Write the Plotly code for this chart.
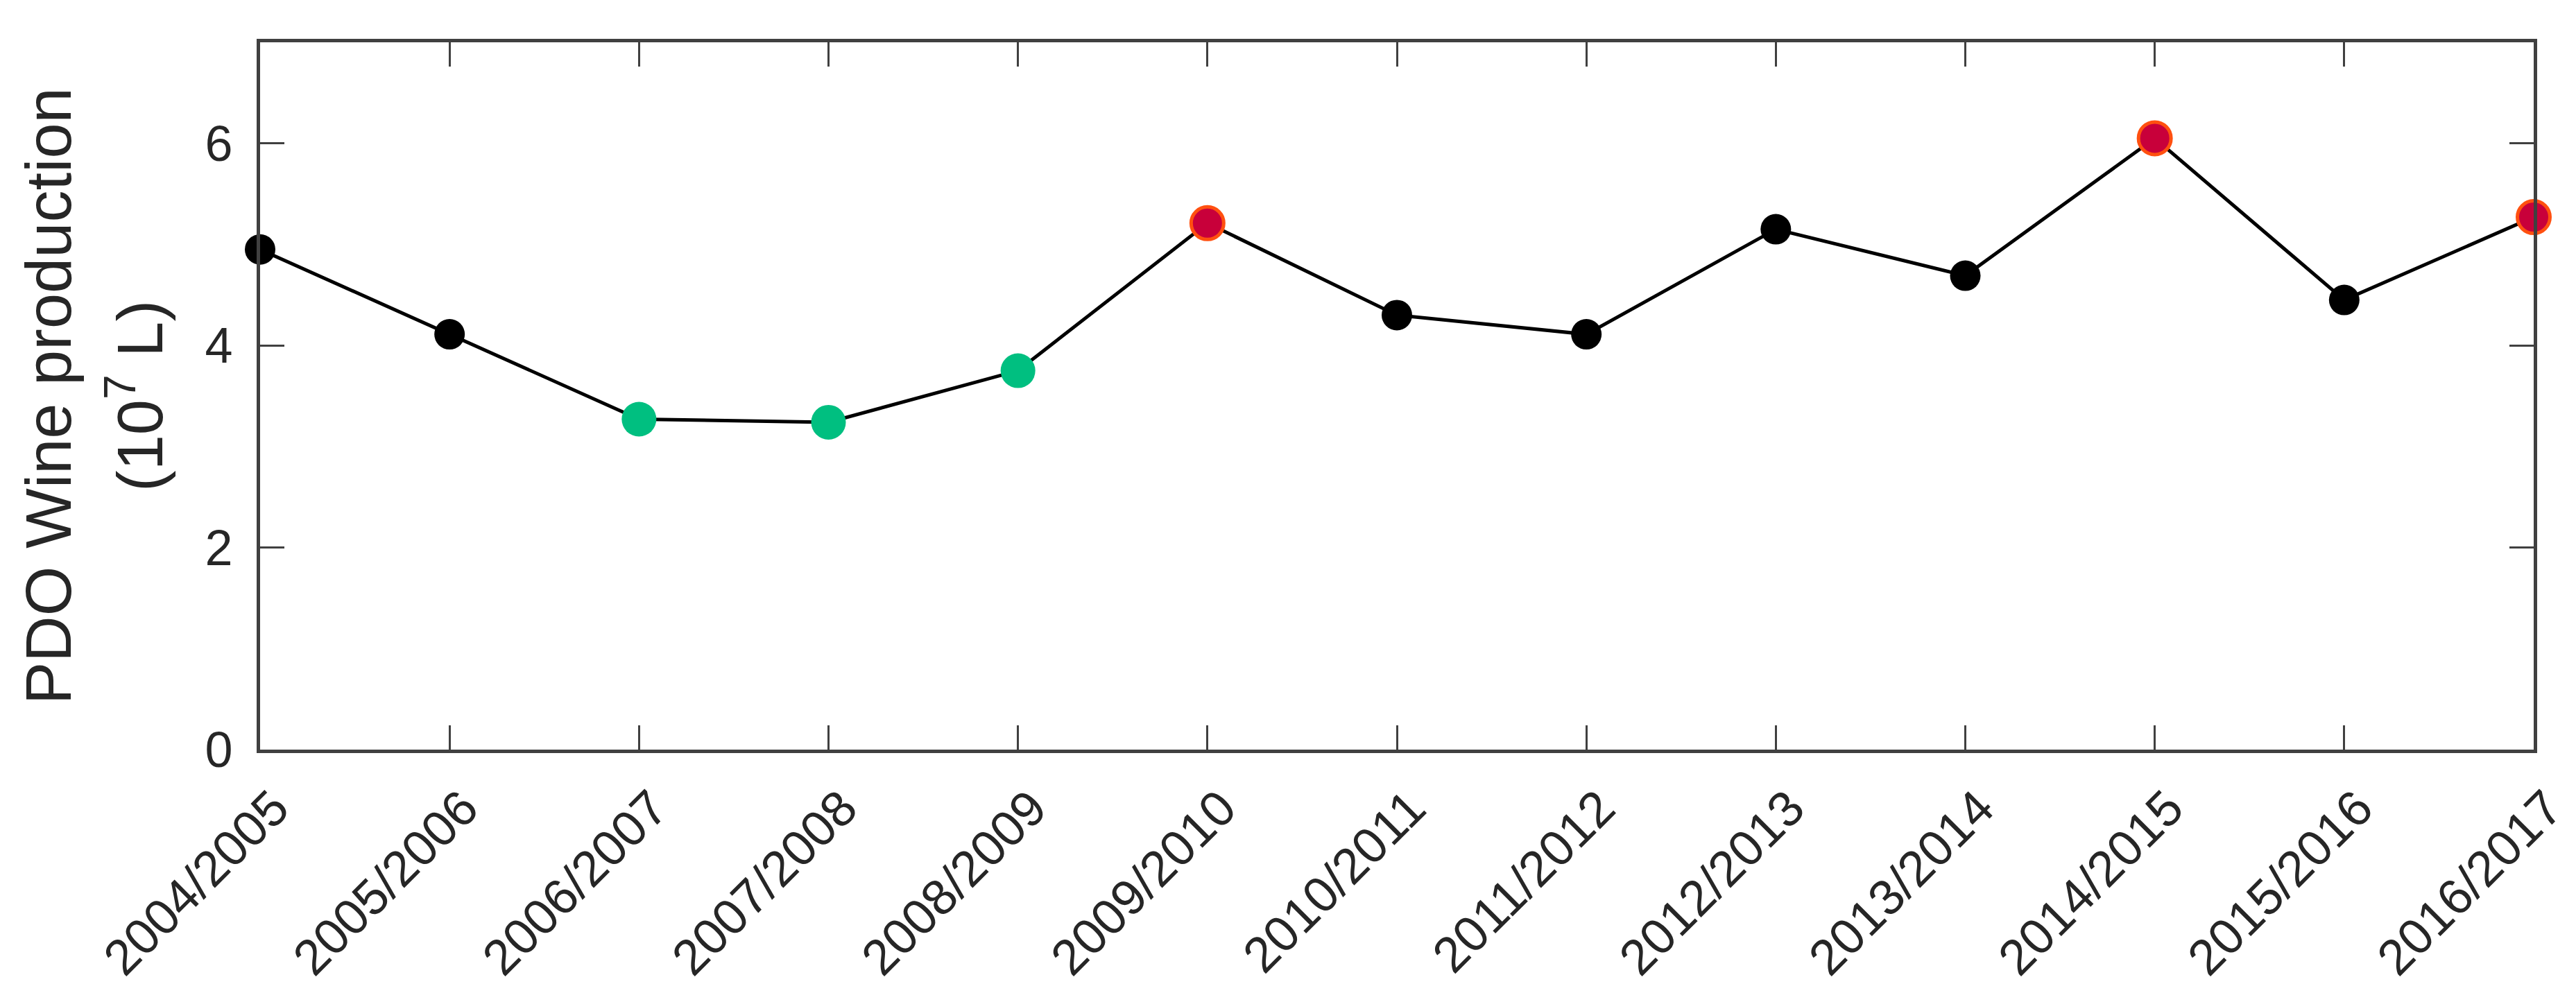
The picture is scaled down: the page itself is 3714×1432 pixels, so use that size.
"""PDO wine production per season, highlighted low/high years."""

import plotly.graph_objects as go

seasons = [
    "2004/2005", "2005/2006", "2006/2007", "2007/2008", "2008/2009",
    "2009/2010", "2010/2011", "2011/2012", "2012/2013", "2013/2014",
    "2014/2015", "2015/2016", "2016/2017",
]
production = [4.95, 4.11, 3.27, 3.24, 3.75, 5.21, 4.30, 4.11, 5.15, 4.69, 6.05, 4.45, 5.27]
# "normal", "low" or "high" season
group = [
    "normal", "normal", "low", "low", "low",
    "high", "normal", "normal", "normal", "normal",
    "high", "normal", "high",
]

y_ticks = [0, 2, 4, 6]

AXIS_COLOR = "#404040"
TEXT_COLOR = "#262626"
FONT = "Liberation Sans, Arial, sans-serif"

marker_styles = {
    "normal": dict(color="black", size=44, line=dict(width=0)),
    "low": dict(color="#00BF80", size=50, line=dict(width=0)),
    "high": dict(color="#C8003A", size=47, line=dict(color="#FF5010", width=5)),
}

fig = go.Figure()
fig.add_trace(go.Scatter(
    x=seasons, y=production, mode="lines",
    line=dict(color="black", width=5), showlegend=False,
))
for g, style in marker_styles.items():
    xs = [s for s, k in zip(seasons, group) if k == g]
    ys = [v for v, k in zip(production, group) if k == g]
    fig.add_trace(go.Scatter(
        x=xs, y=ys, mode="markers", marker=dict(symbol="circle", **style),
        showlegend=False, cliponaxis=False,
    ))

axis_common = dict(
    showline=True, linecolor=AXIS_COLOR, linewidth=5, mirror="ticks",
    ticks="inside", ticklen=35, tickwidth=3, tickcolor=AXIS_COLOR,
    showgrid=False, zeroline=False, automargin=False,
    tickfont=dict(family=FONT, size=72, color=TEXT_COLOR),
)

fig.update_xaxes(
    type="category", categoryorder="array", categoryarray=seasons,
    range=[0, len(seasons) - 1], tickangle=-45,
    ticklabelshift=20, ticklabelstandoff=8, **axis_common,
)
fig.update_yaxes(range=[0, 7], tickvals=y_ticks, ticklabelstandoff=20, **axis_common)

# two-line y label, MATLAB style spacing
for text, shift in [("PDO Wine production", -305), ("(10<sup>7</sup> L)", -180)]:
    fig.add_annotation(
        text=text, xref="paper", yref="paper", x=0, y=0.5,
        xanchor="center", yanchor="middle", xshift=shift,
        textangle=-90, showarrow=False,
        font=dict(family=FONT, size=92, color=TEXT_COLOR),
    )

fig.update_layout(
    width=3714, height=1432,
    margin=dict(l=367, r=69, t=53, b=359),
    paper_bgcolor="white", plot_bgcolor="white",
    font=dict(family=FONT, color=TEXT_COLOR),
)

fig.write_html("out.html")
